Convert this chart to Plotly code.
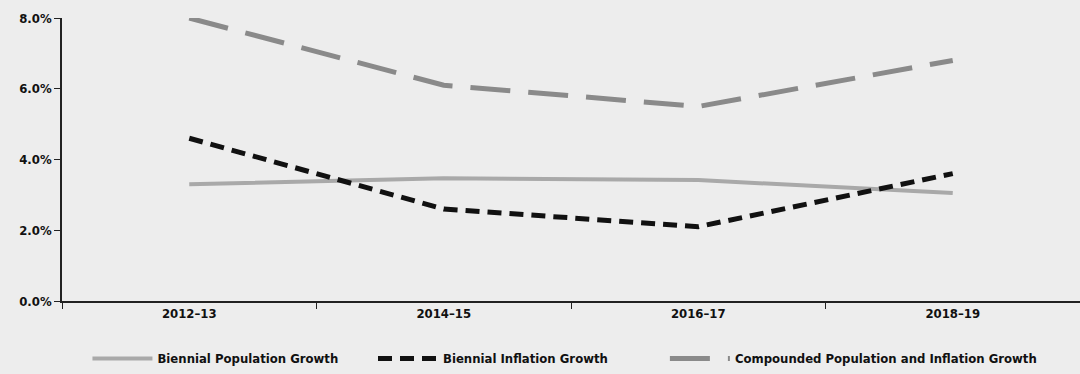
import plotly.graph_objects as go

categories = ["2012–13", "2014–15", "2016–17", "2018–19"]
population = [3.3, 3.47, 3.42, 3.05]
inflation = [4.6, 2.6, 2.1, 3.6]
compounded = [8.0, 6.1, 5.5, 6.8]
y_ticks = [0, 2, 4, 6, 8]
y_tick_labels = ["0.0%", "2.0%", "4.0%", "6.0%", "8.0%"]
series_names = ["Biennial Population Growth", "Biennial Inflation Growth",
                "Compounded Population and Inflation Growth"]

FONT = "DejaVu Sans Condensed, Liberation Sans Narrow, sans-serif"
BG = "#ededed"
PAD1 = "&nbsp;" * 8
PAD2 = "&nbsp;" * 14

fig = go.Figure()
fig.add_trace(go.Scatter(
    x=categories, y=population, mode="lines",
    name="<b>%s</b>%s" % (series_names[0], PAD1),
    line=dict(color="#a9a9a9", width=4),
))
fig.add_trace(go.Scatter(
    x=categories, y=inflation, mode="lines",
    name="<b>%s</b>%s" % (series_names[1], PAD2),
    line=dict(color="#111111", width=5, dash="14px,8px"),
))
fig.add_trace(go.Scatter(
    x=categories, y=compounded, mode="lines",
    name="<b>%s</b>" % series_names[2],
    line=dict(color="#8a8a8a", width=5, dash="40px,18px"),
))

fig.update_layout(
    width=1080, height=374,
    margin=dict(l=62, r=0, t=18, b=68),
    paper_bgcolor=BG, plot_bgcolor=BG,
    font=dict(family=FONT, size=13, color="#111111"),
    showlegend=True,
    legend=dict(orientation="h", x=0.025, xanchor="left", y=-0.15, yanchor="top",
                font=dict(family=FONT, size=13, color="#111111"),
                bgcolor="rgba(0,0,0,0)", itemwidth=60, tracegroupgap=0),
)
fig.update_xaxes(
    type="category", range=[-0.5, 3.5],
    showline=True, linecolor="#222222", linewidth=1.5,
    ticks="outside", tickson="boundaries", ticklen=6, tickcolor="#222222",
    showgrid=False, zeroline=False,
    tickfont=dict(family=FONT, size=13, color="#111111"),
    tickprefix="<b>", ticksuffix="</b>",
)
fig.update_yaxes(
    range=[0, 8], tickvals=y_ticks, ticktext=["<b>%s</b>" % t for t in y_tick_labels],
    showline=True, linecolor="#222222", linewidth=1.5,
    ticks="outside", ticklen=6, tickcolor="#222222",
    showgrid=False, zeroline=False,
    tickfont=dict(family=FONT, size=13, color="#111111"),
)

fig.write_html(
    "out.html",
    config={"displayModeBar": False},
    post_script="document.body.style.margin='0';document.body.style.background='#ededed';",
)
